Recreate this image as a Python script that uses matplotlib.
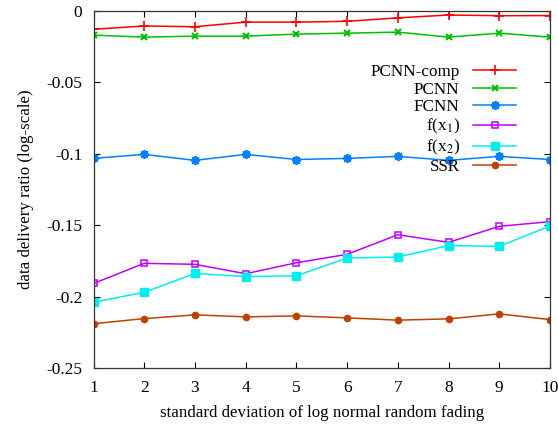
import matplotlib
matplotlib.use("Agg")
import matplotlib.pyplot as plt

plt.rcParams['font.family'] = ['Liberation Serif', 'DejaVu Serif']
plt.rcParams['mathtext.fontset'] = 'stix'

# data
sigma = [1, 2, 3, 4, 5, 6, 7, 8, 9, 10]
pcnn_comp = [-0.0128, -0.0105, -0.0110, -0.0078, -0.0078, -0.0072, -0.0048, -0.0028, -0.0033, -0.0032]
pcnn = [-0.0169, -0.0183, -0.0176, -0.0176, -0.0162, -0.0155, -0.0148, -0.0183, -0.0155, -0.0183]
fcnn = [-0.1032, -0.1004, -0.1046, -0.1004, -0.1040, -0.1032, -0.1018, -0.1046, -0.1018, -0.1040]
f_x1 = [-0.1908, -0.1767, -0.1774, -0.1840, -0.1763, -0.1704, -0.1567, -0.1620, -0.1508, -0.1475]
f_x2 = [-0.2040, -0.1970, -0.1838, -0.1860, -0.1854, -0.1730, -0.1723, -0.1643, -0.1648, -0.1505]
ssr = [-0.2190, -0.2154, -0.2128, -0.2142, -0.2135, -0.2149, -0.2165, -0.2156, -0.2121, -0.2161]

y_ticks = [0, -0.05, -0.1, -0.15, -0.2, -0.25]
y_tick_labels = ['0', '-0.05', '-0.1', '-0.15', '-0.2', '-0.25']

fig = plt.figure(figsize=(5.58, 4.30), dpi=100)
ax = fig.add_axes([0.1676, 0.1442, 0.8181, 0.8302])

lw = 1.1
ax.plot(sigma, pcnn_comp, color='#ff0000', marker='+', ms=7, mew=1.2, lw=lw, label='PCNN-comp')
ax.plot(sigma, pcnn, color='#00c000', marker='x', ms=5, mew=1.5, lw=lw, label='PCNN')
ax.plot(sigma, fcnn, color='#0080ff', marker=(8, 2, 0), ms=6.5, mew=1.3, lw=lw, label='FCNN')
ax.plot(sigma, f_x1, color='#c000ff', marker='s', ms=5, mfc='none', mew=1.1, lw=lw, label=r'f(x$_1$)')
ax.plot(sigma, f_x2, color='#00eeee', marker='s', ms=5.5, lw=lw, label=r'f(x$_2$)')
ax.plot(sigma, ssr, color='#c04000', marker='o', ms=4.5, lw=lw, label='SSR')

ax.set_xlim(1, 10)
ax.set_ylim(-0.25, 0)
ax.set_xticks(sigma)
ax.set_yticks(y_ticks)
ax.set_yticklabels(y_tick_labels)
ax.tick_params(direction='in', length=4.5, width=0.8, top=True, right=True, labelsize=12.5)
ax.tick_params(axis='x', pad=9)
ax.tick_params(axis='y', pad=8)
for s in ax.spines.values():
    s.set_linewidth(0.9)
    s.set_color('#333333')

ax.set_xlabel('standard deviation of log normal random fading', fontsize=12.2, labelpad=6)
ax.set_ylabel('data delivery ratio (log-scale)', fontsize=12.2, labelpad=9)

ax.legend(loc='upper right', bbox_to_anchor=(0.9255, 0.852), frameon=False, markerfirst=False,
          fontsize=12.3, handlelength=2.5, handletextpad=0.8, labelspacing=0.1,
          borderpad=0, borderaxespad=0)

fig.savefig('out.png', dpi=100)
